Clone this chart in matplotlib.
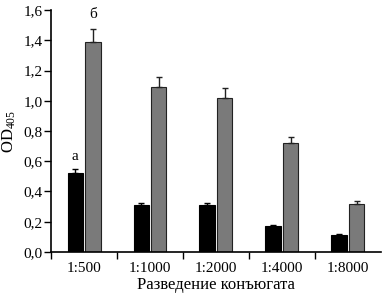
import matplotlib.pyplot as plt
import numpy as np

# Data.
dilutions = ['1:500', '1:1000', '1:2000', '1:4000', '1:8000']
black_vals = [0.52, 0.31, 0.31, 0.17, 0.11]
black_err = [0.03, 0.015, 0.015, 0.01, 0.008]
gray_vals = [1.39, 1.09, 1.02, 0.72, 0.32]
gray_err = [0.085, 0.07, 0.065, 0.04, 0.018]
y_ticks = [0.0, 0.2, 0.4, 0.6, 0.8, 1.0, 1.2, 1.4, 1.6]

plt.rcParams['font.family'] = ['Liberation Serif', 'DejaVu Serif']
plt.rcParams['mathtext.fontset'] = 'custom'
plt.rcParams['mathtext.rm'] = 'Liberation Serif'
plt.rcParams['mathtext.it'] = 'Liberation Serif:italic'

fig = plt.figure(figsize=(3.87, 2.95), dpi=100)
ax = fig.add_axes([0.132, 0.146, 0.852, 0.82])

x = np.arange(len(dilutions))
width = 0.23
off = 0.135
ax.bar(x - off, black_vals, width, color='black', edgecolor='black', linewidth=0.8,
       yerr=[np.zeros(5), black_err], error_kw=dict(ecolor='black', capsize=2.5, elinewidth=1, capthick=1))
ax.bar(x + off, gray_vals, width, color='#7a7a7a', edgecolor='#222222', linewidth=0.8,
       yerr=[np.zeros(5), gray_err], error_kw=dict(ecolor='#222222', capsize=2.5, elinewidth=1, capthick=1))

# Significance letters
ax.text(x[0] - off, black_vals[0] + black_err[0] + 0.04, 'а', ha='center', va='bottom', fontsize=11)
ax.text(x[0] + off, gray_vals[0] + gray_err[0] + 0.05, 'б', ha='center', va='bottom', fontsize=11)

ax.set_xlim(-0.5, 4.5)
ax.set_ylim(0, 1.6)
ax.set_yticks(y_ticks)
ax.set_yticklabels([('%.1f' % v).replace('.', ',') for v in y_ticks], fontsize=11)
ax.set_xticks(np.arange(-0.5, 4.0, 1.0))
ax.set_xticklabels([])
ax.set_xticks(x, minor=True)
ax.set_xticklabels(dilutions, minor=True, fontsize=11)
ax.tick_params(axis='x', which='minor', length=0, pad=7)
ax.tick_params(axis='x', which='major', length=5, width=1, direction='out')
ax.tick_params(axis='y', length=5, width=1, direction='out', pad=1)

for s in ['top', 'right']:
    ax.spines[s].set_visible(False)
for s in ['left', 'bottom']:
    ax.spines[s].set_linewidth(1.2)

ax.set_xlabel('Разведение конъюгата', fontsize=12, labelpad=2)
ax.set_ylabel('OD$_{405}$', fontsize=12, labelpad=4)

fig.savefig('out.png', dpi=100)
